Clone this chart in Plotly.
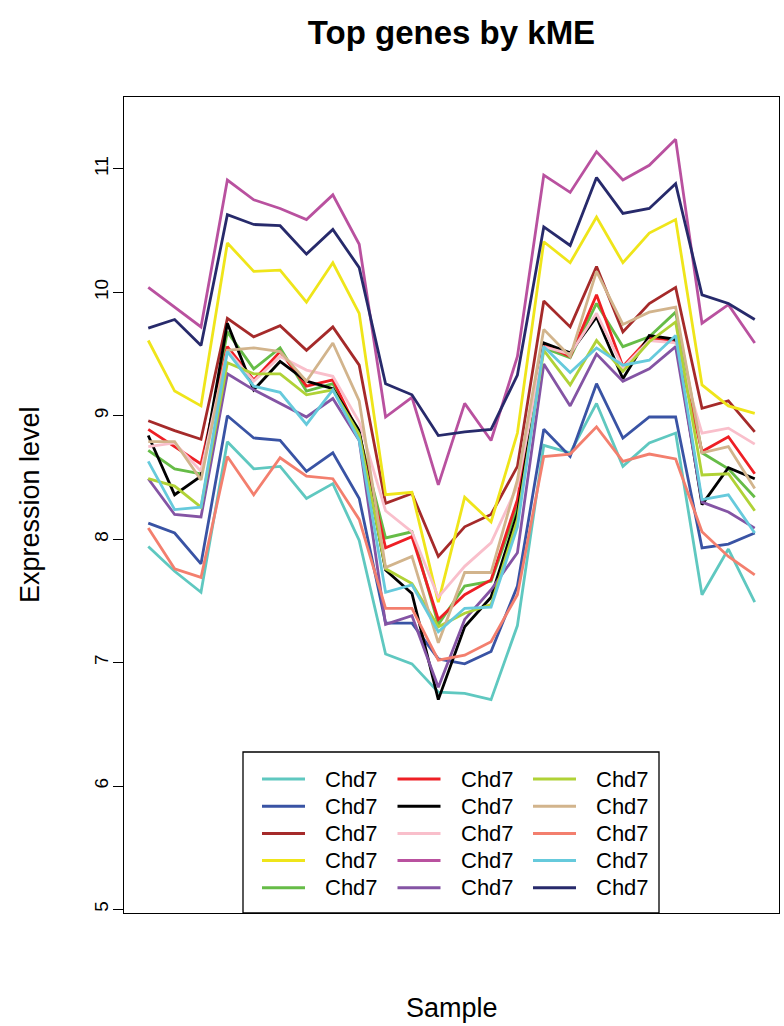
import plotly.graph_objects as go

# ---- data -------------------------------------------------------------
samples = list(range(1, 25))
gene_label = "Chd7"

turquoise = [7.94, 7.74, 7.57, 8.79, 8.57, 8.59, 8.33, 8.45, 7.99, 7.07, 6.99, 6.76,
             6.75, 6.70, 7.30, 8.76, 8.70, 9.10, 8.59, 8.78, 8.86, 7.55, 7.92, 7.49]
blue = [8.13, 8.05, 7.80, 9.00, 8.82, 8.80, 8.55, 8.70, 8.33, 7.32, 7.32, 7.03,
        6.99, 7.09, 7.62, 8.89, 8.67, 9.26, 8.82, 8.99, 8.99, 7.93, 7.96, 8.05]
brown = [8.96, 8.88, 8.81, 9.79, 9.64, 9.73, 9.53, 9.72, 9.41, 8.29, 8.37, 7.86,
         8.10, 8.20, 8.59, 9.93, 9.72, 10.21, 9.68, 9.91, 10.04, 9.06, 9.12, 8.87]
yellow = [9.61, 9.20, 9.08, 10.40, 10.17, 10.18, 9.92, 10.24, 9.83, 8.36, 8.38, 7.49,
          8.34, 8.14, 8.86, 10.41, 10.24, 10.61, 10.24, 10.48, 10.59, 9.25, 9.08, 9.02]
green = [8.72, 8.57, 8.53, 9.68, 9.38, 9.55, 9.20, 9.26, 8.85, 8.01, 8.06, 7.31,
         7.62, 7.66, 8.26, 9.55, 9.47, 9.91, 9.56, 9.64, 9.84, 8.70, 8.57, 8.34]
red = [8.89, 8.75, 8.61, 9.56, 9.29, 9.52, 9.24, 9.29, 8.85, 7.93, 8.02, 7.35,
       7.55, 7.67, 8.32, 9.58, 9.48, 9.98, 9.40, 9.63, 9.61, 8.71, 8.83, 8.53]
black = [8.84, 8.36, 8.51, 9.75, 9.21, 9.44, 9.28, 9.22, 8.88, 7.75, 7.56, 6.70,
         7.29, 7.53, 8.21, 9.59, 9.51, 9.80, 9.30, 9.65, 9.62, 8.28, 8.58, 8.49]
pink = [8.75, 8.78, 8.55, 9.53, 9.28, 9.48, 9.37, 9.32, 8.95, 8.23, 8.06, 7.53,
        7.78, 7.97, 8.43, 9.56, 9.50, 9.83, 9.39, 9.61, 9.59, 8.86, 8.90, 8.77]
magenta = [10.04, 9.88, 9.72, 10.91, 10.75, 10.68, 10.59, 10.79, 10.39, 8.99, 9.15, 8.44,
           9.10, 8.80, 9.48, 10.95, 10.81, 11.14, 10.91, 11.03, 11.24, 9.75, 9.90, 9.59]
purple = [8.49, 8.20, 8.18, 9.34, 9.21, 9.10, 8.99, 9.14, 8.80, 7.31, 7.38, 6.80,
          7.35, 7.59, 7.89, 9.42, 9.08, 9.50, 9.28, 9.38, 9.56, 8.30, 8.22, 8.09]
greenyellow = [8.49, 8.43, 8.26, 9.43, 9.34, 9.34, 9.17, 9.21, 8.85, 7.76, 7.64, 7.29,
               7.40, 7.47, 8.16, 9.53, 9.25, 9.61, 9.36, 9.60, 9.76, 8.52, 8.53, 8.23]
tan = [8.79, 8.79, 8.48, 9.53, 9.55, 9.52, 9.28, 9.59, 9.12, 7.77, 7.86, 7.16,
       7.73, 7.73, 8.48, 9.70, 9.48, 10.17, 9.74, 9.84, 9.88, 8.70, 8.75, 8.41]
salmon = [8.09, 7.76, 7.69, 8.67, 8.36, 8.66, 8.51, 8.49, 8.16, 7.44, 7.44, 7.02,
          7.06, 7.17, 7.55, 8.67, 8.69, 8.91, 8.63, 8.69, 8.65, 8.06, 7.86, 7.71]
cyan = [8.63, 8.24, 8.26, 9.52, 9.24, 9.19, 8.93, 9.21, 8.80, 7.57, 7.63, 7.25,
        7.44, 7.45, 8.10, 9.56, 9.35, 9.55, 9.41, 9.45, 9.65, 8.32, 8.36, 8.05]
midnightblue = [9.71, 9.78, 9.57, 10.63, 10.55, 10.54, 10.31, 10.51, 10.20, 9.26, 9.17, 8.84,
                8.87, 8.89, 9.33, 10.53, 10.38, 10.93, 10.64, 10.68, 10.88, 9.98, 9.91, 9.78]

y_ticks = [5, 6, 7, 8, 9, 10, 11]

series = [
    (turquoise, "#5FC8C0"),
    (blue, "#3953A4"),
    (brown, "#A52A2A"),
    (yellow, "#EFE51A"),
    (green, "#66BC47"),
    (red, "#EE1F25"),
    (black, "#000000"),
    (pink, "#F9BFCB"),
    (magenta, "#B9519F"),
    (purple, "#8454A4"),
    (greenyellow, "#B0D236"),
    (tan, "#D2B48C"),
    (salmon, "#F37F6E"),
    (cyan, "#66CADC"),
    (midnightblue, "#272A6B"),
]

# ---- page geometry (pixels) --------------------------------------------
W, H = 784, 1026
L, R, T, B = 124, 5, 97, 113
PW, PH = W - L - R, H - T - B
FONT = "Liberation Sans, Arial, Helvetica, sans-serif"


def px_x(px):
    return (px - L) / PW


def px_y(py):
    return (H - B - py) / PH


fig = go.Figure()
for values, color in series:
    fig.add_trace(go.Scatter(
        x=samples, y=values, mode="lines",
        line=dict(color=color, width=2.8),
        name=gene_label, showlegend=False, hoverinfo="x+y",
    ))

# ---- legend box: three columns of five entries --------------------------
shapes = [dict(type="rect", xref="paper", yref="paper",
               x0=px_x(243), x1=px_x(659), y0=px_y(913), y1=px_y(752),
               line=dict(color="black", width=1.3), fillcolor="white", layer="above")]
annotations = []
col_line_x = [262, 397.5, 533]
row_y0, row_step = 779, 27.2
for i, (values, color) in enumerate(series):
    col, row = divmod(i, 5)
    yy = px_y(row_y0 + row * row_step)
    x0 = col_line_x[col]
    shapes.append(dict(type="line", xref="paper", yref="paper",
                       x0=px_x(x0), x1=px_x(x0 + 43), y0=yy, y1=yy,
                       line=dict(color=color, width=3), layer="above"))
    annotations.append(dict(xref="paper", yref="paper", x=px_x(x0 + 61), y=yy,
                            text=gene_label, showarrow=False, xanchor="left",
                            yanchor="middle", font=dict(size=22, color="black", family=FONT)))

# axis titles
annotations.append(dict(xref="paper", yref="paper", x=px_x(30), y=0.5,
                        text="Expression level", textangle=-90, showarrow=False,
                        xanchor="center", yanchor="middle",
                        font=dict(size=27, color="black", family=FONT)))
annotations.append(dict(xref="paper", yref="paper", x=0.5, y=px_y(1008),
                        text="Sample", showarrow=False,
                        xanchor="center", yanchor="middle",
                        font=dict(size=27, color="black", family=FONT)))

fig.update_layout(
    width=W, height=H,
    margin=dict(l=L, r=R, t=T, b=B, pad=0),
    paper_bgcolor="white", plot_bgcolor="white",
    font=dict(family=FONT, color="black"),
    title=dict(text="<b>Top genes by kME</b>", x=0.5, xref="paper",
               y=1 - 32 / H, yref="container", xanchor="center", yanchor="middle",
               font=dict(size=33, color="black", family=FONT)),
    xaxis=dict(range=[0.08, 24.92], showticklabels=False, ticks="",
               showgrid=False, zeroline=False, showline=True, mirror=True,
               linecolor="black", linewidth=1.3),
    yaxis=dict(range=[4.971, 11.583], tickvals=y_ticks, ticktext=[str(t) for t in y_ticks],
               tickangle=-90, ticks="outside", ticklen=10, tickwidth=1.3,
               ticklabelstandoff=-3,
               tickcolor="black", tickfont=dict(size=19, color="black", family=FONT),
               showgrid=False, zeroline=False, showline=True, mirror=True,
               linecolor="black", linewidth=1.3),
    shapes=shapes,
    annotations=annotations,
    showlegend=False,
)

fig.write_html("out.html")
